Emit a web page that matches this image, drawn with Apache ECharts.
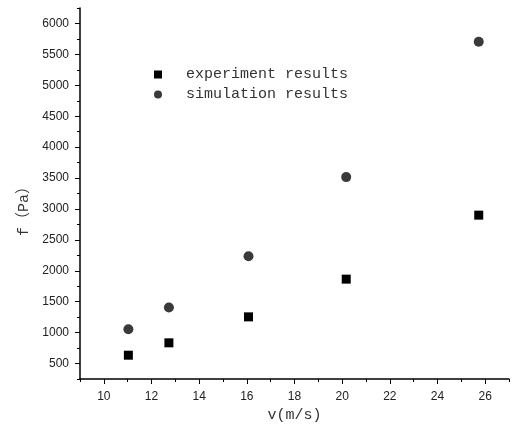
<!DOCTYPE html>
<html>
<head>
<meta charset="utf-8">
<script src="https://cdn.jsdelivr.net/npm/echarts@6/dist/echarts.min.js"></script>
<style>
  html, body { margin: 0; padding: 0; background: #fff; }
  #chart { width: 512px; height: 434px; }
</style>
</head>
<body>
<div id="chart"></div>
<script>
// wind speed (m/s) and force (Pa)
const experimentX = [11.03, 12.73, 16.07, 20.17, 25.73];
const experimentY = [635, 835, 1255, 1865, 2900];
const simulationX = [11.03, 12.73, 16.07, 20.17, 25.73];
const simulationY = [1055, 1405, 2235, 3515, 5705];

const xMajorTicks = [10, 12, 14, 16, 18, 20, 22, 24, 26];
const yMajorTicks = [500, 1000, 1500, 2000, 2500, 3000, 3500, 4000, 4500, 5000, 5500, 6000];

const serifFont = '"Liberation Mono", "Noto Sans CJK SC", monospace';
const tickFont = '"Liberation Sans", Arial, sans-serif';
const axisColor = '#000';

const chart = echarts.init(document.getElementById('chart'));

const pairs = (xs, ys) => xs.map((x, i) => [x, ys[i]]);

chart.setOption({
  animation: false,
  backgroundColor: '#fff',
  grid: {
    left: 80,
    right: -10,
    top: 8,
    bottom: 55,
  },
  legend: {
    orient: 'vertical',
    left: 149,
    top: 62,
    itemWidth: 46,
    itemHeight: 8,
    itemGap: 5,
    symbolKeepAspect: true,
    textStyle: {
      fontFamily: serifFont,
      fontSize: 15,
      color: '#333',
    },
    data: [
      { name: 'experiment results', icon: 'path://M0,0L10,0L10,10L0,10Z', itemStyle: { color: '#000' } },
      { name: 'simulation results', icon: 'circle', itemStyle: { color: '#3a3a3a' } },
    ],
  },
  xAxis: [
    {
      type: 'value',
      min: 9,
      max: 27,
      interval: 1,
      name: 'v(m/s)',
      nameLocation: 'middle',
      nameGap: 28,
      nameTextStyle: {
        fontFamily: serifFont,
        fontSize: 15,
        color: '#333',
      },
      axisLine: { show: true, lineStyle: { color: axisColor, width: 1.5 } },
      axisTick: { show: true, length: 3, lineStyle: { color: axisColor, width: 1 } },
      axisLabel: {
        margin: 12,
        fontFamily: tickFont,
        fontSize: 12,
        color: '#222',
        formatter: v => (xMajorTicks.indexOf(v) >= 0 ? String(v) : ''),
      },
      splitLine: { show: false },
    },
    {
      // longer ticks at the labelled values
      type: 'value',
      position: 'bottom',
      min: 9,
      max: 27,
      axisLine: { show: false },
      axisTick: { show: true, length: 5, customValues: xMajorTicks, lineStyle: { color: axisColor, width: 1 } },
      axisLabel: { show: false },
      splitLine: { show: false },
    },
  ],
  yAxis: [
    {
      type: 'value',
      min: 250,
      max: 6250,
      interval: 250,
      name: 'f（Pa）',
      nameLocation: 'middle',
      nameGap: 46,
      nameRotate: 90,
      nameTextStyle: {
        fontFamily: serifFont,
        fontSize: 15,
        color: '#333',
        padding: [0, 28, 0, 0],
      },
      axisLine: { show: true, lineStyle: { color: axisColor, width: 1.5 } },
      axisTick: { show: true, length: 3, lineStyle: { color: axisColor, width: 1 } },
      axisLabel: {
        margin: 11,
        fontFamily: tickFont,
        fontSize: 12,
        color: '#222',
        formatter: v => (yMajorTicks.indexOf(v) >= 0 ? String(v) : ''),
      },
      splitLine: { show: false },
    },
    {
      type: 'value',
      position: 'left',
      min: 250,
      max: 6250,
      axisLine: { show: false },
      axisTick: { show: true, length: 5, customValues: yMajorTicks, lineStyle: { color: axisColor, width: 1 } },
      axisLabel: { show: false },
      splitLine: { show: false },
    },
  ],
  series: [
    {
      name: 'experiment results',
      type: 'scatter',
      symbol: 'rect',
      symbolSize: 9,
      itemStyle: { color: '#000', opacity: 1 },
      data: pairs(experimentX, experimentY),
    },
    {
      name: 'simulation results',
      type: 'scatter',
      symbol: 'circle',
      symbolSize: 10,
      itemStyle: { color: '#3a3a3a', opacity: 1 },
      data: pairs(simulationX, simulationY),
    },
  ],
});
</script>
</body>
</html>
